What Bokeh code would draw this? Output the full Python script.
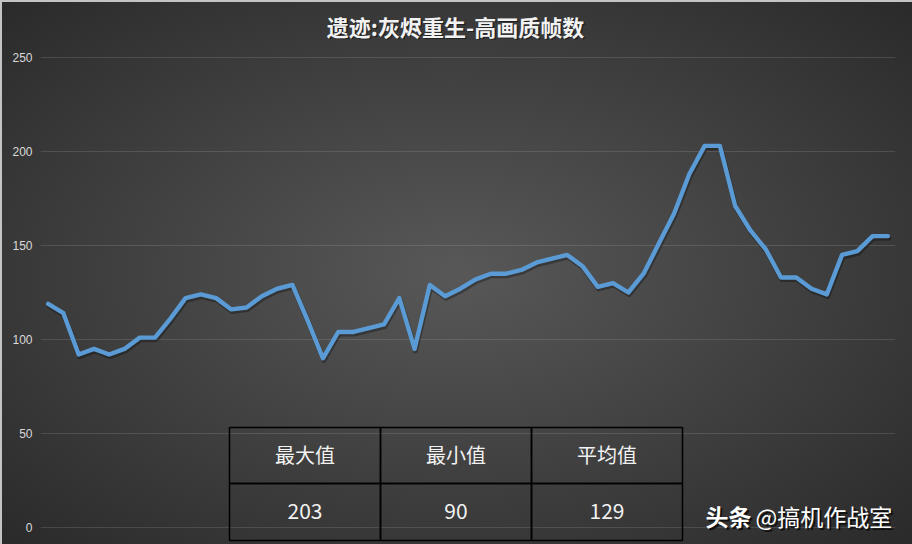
import numpy as np
from bokeh.plotting import figure
from bokeh.models import Range1d, FixedTicker
from bokeh.core.properties import value
from bokeh.embed import file_html
from bokeh.resources import INLINE

# ---------------- data ----------------
title_text = "遗迹:灰烬重生-高画质帧数"
fps = [119, 114, 92, 95, 92, 95, 101, 101, 111, 122,
       124, 122, 116, 117, 123, 127, 129, 110, 90, 104,
       104, 106, 108, 122, 95, 129, 123, 127, 132, 135,
       135, 137, 141, 143, 145, 139, 128, 130, 125, 135,
       151, 167, 188, 203, 203, 171, 158, 148, 133, 133,
       127, 124, 145, 147, 155, 155]
y_ticks = [0, 50, 100, 150, 200, 250]
stat_labels = ["最大值", "最小值", "平均值"]
stat_values = ["203", "90", "129"]
watermark_bold = "头条"
watermark_rest = "@搞机作战室"

# ---------------- layout ----------------
W, H = 912, 544
LEFT, RIGHT = 40, 17
FRAME_W = W - LEFT - RIGHT            # 855 px
N = len(fps)
PX_PER_UNIT = 470 / 250.0
ZERO_FY = 527                          # pixel row of value 0
y_start = -(H - ZERO_FY) / PX_PER_UNIT
y_end = ZERO_FY / PX_PER_UNIT


def X(px):
    """pixel x -> data x"""
    return -0.5 + (px - LEFT) * N / FRAME_W


def Y(py):
    """pixel y -> data y"""
    return (ZERO_FY - py) / PX_PER_UNIT


CJK = value("Noto Sans CJK SC")

p = figure(width=W, height=H, output_backend="svg", toolbar_location=None,
           x_range=Range1d(-0.5, N - 0.5), y_range=Range1d(y_start, y_end),
           x_axis_location=None,
           min_border_left=LEFT, min_border_right=RIGHT,
           min_border_top=0, min_border_bottom=0,
           background_fill_color=None, border_fill_color=None,
           outline_line_color=None)
p.styles = {
    "background": "radial-gradient(645px 385px at 50% 50%, #585858 0%, #2a2a2a 100%)",
    "box-shadow": "inset 2px 2px 0 #c4c4c4",
}

p.xgrid.visible = False
p.ygrid.ticker = FixedTicker(ticks=y_ticks)
p.ygrid.grid_line_color = "white"
p.ygrid.grid_line_alpha = 0.12
p.ygrid.grid_line_width = 1

ax = p.yaxis[0]
ax.ticker = FixedTicker(ticks=y_ticks)
ax.axis_line_color = None
ax.major_tick_line_color = None
ax.minor_tick_line_color = None
ax.major_tick_out = 0
ax.major_tick_in = 0
ax.major_label_standoff = 8
ax.major_label_text_color = "#d9d9d9"
ax.major_label_text_font = "Liberation Sans"
ax.major_label_text_font_size = "12px"

# ---------------- line ----------------
xs = list(range(N))
p.line([x + 0.06 for x in xs], [v - 1.1 for v in fps], line_color="black",
       line_alpha=0.3, line_width=5, line_join="round", line_cap="round")
p.line(xs, fps, line_color="#5b9bd5", line_width=4.4,
       line_join="round", line_cap="round")

# ---------------- title ----------------
p.text(x=[X(456.5)], y=[Y(26.5)], text=[title_text], text_align="center",
       text_baseline="middle", text_font=CJK, text_font_style="bold",
       text_font_size="22px", text_color="black", text_alpha=0.45)
p.text(x=[X(455)], y=[Y(25)], text=[title_text], text_align="center",
       text_baseline="middle", text_font=CJK, text_font_style="bold",
       text_font_size="22px", text_color="#f2f2f2")

# ---------------- stats table ----------------
col_edges = [229, 380, 531, 682]
row_edges = [427, 483, 540]
lefts = [X(col_edges[i]) for i in range(3)] * 2
rights = [X(col_edges[i + 1]) for i in range(3)] * 2
tops = [Y(row_edges[0])] * 3 + [Y(row_edges[1])] * 3
bottoms = [Y(row_edges[1])] * 3 + [Y(row_edges[2])] * 3
p.quad(left=lefts, right=rights, top=tops, bottom=bottoms,
       fill_color=None, line_color="black", line_width=1.5)
centers = [X((col_edges[i] + col_edges[i + 1]) / 2) for i in range(3)]
p.text(x=centers, y=[Y(454)] * 3, text=stat_labels, text_align="center",
       text_baseline="middle", text_font=CJK, text_font_size="20px",
       text_color="#f2f2f2")
p.text(x=centers, y=[Y(510)] * 3, text=stat_values, text_align="center",
       text_baseline="middle", text_font=CJK, text_font_size="21px",
       text_color="#f2f2f2")

# ---------------- watermark ----------------
for dxp, col, alpha in [(2, "black", 0.7), (0, "white", 1.0)]:
    p.text(x=[X(705 + dxp)], y=[Y(515 + dxp)], text=[watermark_bold],
           text_align="left", text_baseline="middle", text_font=CJK,
           text_font_style="bold", text_font_size="23px",
           text_color=col, text_alpha=alpha)
    p.text(x=[X(755 + dxp)], y=[Y(515 + dxp)], text=[watermark_rest],
           text_align="left", text_baseline="middle", text_font=CJK,
           text_font_size="23px", text_color=col, text_alpha=alpha)

open("out.html", "w").write(file_html(p, INLINE))
